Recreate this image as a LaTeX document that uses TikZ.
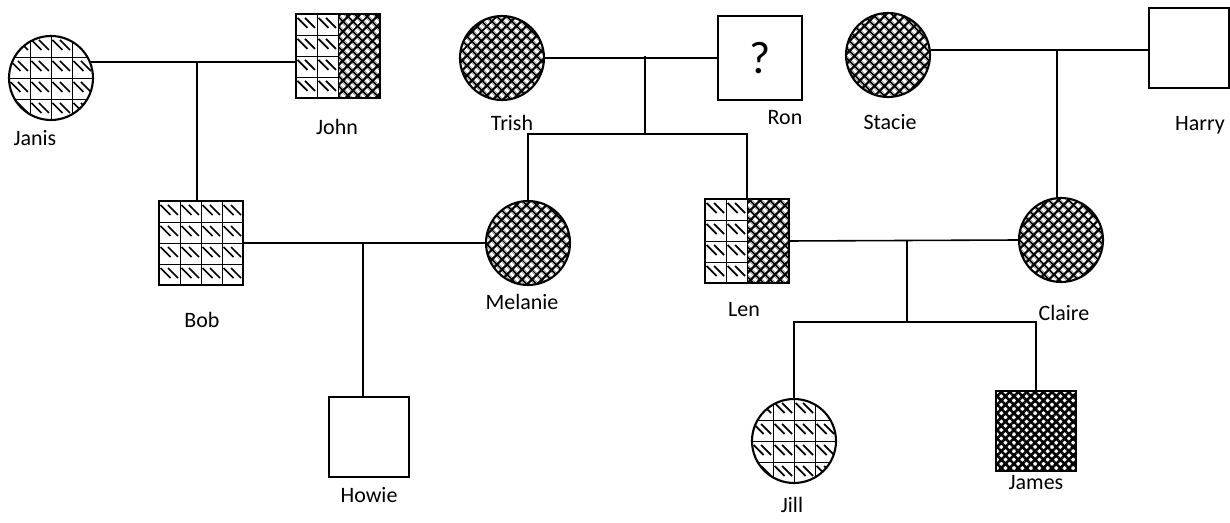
\documentclass[tikz,border=0pt]{standalone}
\usepackage{fontspec}
\setmainfont{Carlito}
\usepackage{tikz}
\usetikzlibrary{positioning,calc,patterns.meta}

% grid cells with short diagonal dashes, #1 = columns filled
\newcommand{\gridcells}[1]{%
  \foreach \k in {1,2,3}
    \draw[line width=0.5pt] ($(path picture bounding box.north west)+(0,-\k*0.42)$) -- ++(#1*0.42,0);
  \foreach \k in {1,...,#1}
    \draw[line width=0.5pt] ($(path picture bounding box.north west)+(\k*0.42,0)$) -- ++(0,-1.68);
  \foreach \i in {1,...,#1} \foreach \j in {1,...,4} {
    \draw[line width=1pt] ($(path picture bounding box.north west)+({(\i-1)*0.42+0.03},{-(\j-1)*0.42-0.08})$) -- ++(0.2,-0.2);
    \draw[line width=1pt] ($(path picture bounding box.north west)+({(\i-1)*0.42+0.18},{-(\j-1)*0.42-0.08})$) -- ++(0.2,-0.2);
  }}

\tikzset{
  person/.style={draw, line width=1.2pt, minimum size=1.68cm, inner sep=0pt},
  female/.style={person, circle},
  male/.style={person, rectangle},
  dashcells/.style={path picture={\gridcells{4}}},
  halfcells/.style={path picture={\gridcells{2}
      \fill[pattern={Hatch[angle=45,distance=4pt,line width=1.3pt]}]
        ($(path picture bounding box.north west)+(0.84,0)$) rectangle (path picture bounding box.south east);}},
  hatched/.style={pattern={Hatch[angle=45,distance=4pt,line width=1.3pt]}},
  darkhatched/.style={pattern={Hatch[angle=45,distance=3.4pt,line width=1.5pt]}},
  link/.style={line width=0.9pt},
  who/.style={font=\fontsize{12.5}{14}\selectfont}
}

\begin{document}
\begin{tikzpicture}
  \useasboundingbox (0,0) rectangle (24.6,-10.46);

  % first generation
  \node[female,dashcells] (janis) at (1.02,-1.56) {};
  \node[male,halfcells] (john) at (6.76,-1.12) {};
  \node[female,hatched] (trish) at (10.04,-1.16) {};
  \node[male] (ron) at (15.2,-1.16) {\fontsize{26}{26}\selectfont ?};
  \node[female,hatched] (stacie) at (17.76,-1.10) {};
  \node[male,minimum size=1.6cm] (harry) at (23.78,-0.96) {};

  % second generation
  \node[male,dashcells] (bob) at (4.02,-4.86) {};
  \node[female,hatched] (melanie) at (10.56,-4.86) {};
  \node[male,halfcells] (len) at (14.94,-4.82) {};
  \node[female,hatched] (claire) at (21.22,-4.80) {};

  % third generation
  \node[male,minimum size=1.6cm] (howie) at (7.38,-8.74) {};
  \node[female,dashcells] (jill) at (15.88,-8.82) {};
  \node[male,darkhatched,minimum size=1.6cm] (james) at (20.72,-8.62) {};

  % names
  \node[who] (janislbl) at (0.70,-2.76) {Janis};
  \node[who] (johnlbl) at (6.74,-2.54) {John};
  \node[who] (trishlbl) at (10.24,-2.46) {Trish};
  \node[who] (ronlbl) at (15.70,-2.36) {Ron};
  \node[who] (stacielbl) at (17.80,-2.44) {Stacie};
  \node[who] (harrylbl) at (24.0,-2.5) {Harry};
  \node[who] (boblbl) at (4.04,-6.4) {Bob};
  \node[who] (melanielbl) at (10.44,-6.04) {Melanie};
  \node[who] (lenlbl) at (14.88,-6.2) {Len};
  \node[who] (clairelbl) at (21.28,-6.26) {Claire};
  \node[who] (howielbl) at (7.38,-9.9) {Howie};
  \node[who] (jilllbl) at (15.84,-10.1) {Jill};
  \node[who] (jameslbl) at (20.72,-9.66) {James};

  % marriages
  \draw[link] (janis.22) -- (janis.22 -| john.west);
  \draw[link] (trish.east) -- (trish.east -| ron.west);
  \draw[link] (stacie.7) -- (stacie.7 -| harry.west);
  \draw[link] (bob.east) -- (melanie.west);
  \draw[link] (len.east) -- (claire.west);

  % descent
  \coordinate (jjdrop) at (3.94,-1.24);
  \draw[link] (jjdrop) -- (jjdrop |- bob.north);
  \coordinate (trdrop) at (12.9,-1.12);
  \coordinate (trsib) at (12.9,-2.68);
  \draw[link] (trdrop) -- (trsib);
  \draw[link] (melanie.north) |- (trsib) -| (len.north);
  \coordinate (shdrop) at (21.14,-1.0);
  \draw[link] (shdrop) -- (shdrop |- claire.north);
  \coordinate (bmdrop) at (7.26,-4.86);
  \draw[link] (bmdrop) -- (bmdrop |- howie.north);
  \coordinate (lcdrop) at (18.14,-4.82);
  \coordinate (lcsib) at (18.14,-6.44);
  \draw[link] (lcdrop) -- (lcsib);
  \draw[link] (jill.north) |- (lcsib) -| (james.north);
\end{tikzpicture}
\end{document}
